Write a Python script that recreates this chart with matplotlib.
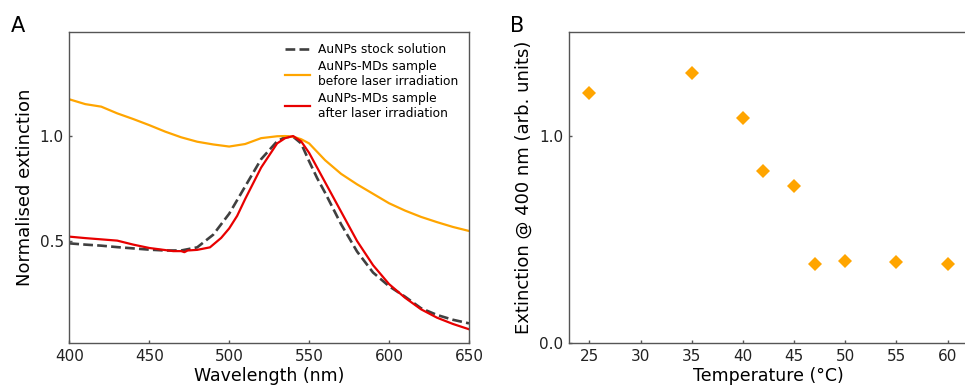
import matplotlib
matplotlib.use("Agg")
import matplotlib.pyplot as plt
from matplotlib.ticker import FormatStrFormatter

# panel A: normalised extinction spectra
wl_stock = [400, 410, 420, 430, 440, 450, 460, 470, 480, 490, 500, 510, 520, 530, 535, 540,
            545, 550, 555, 560, 570, 580, 590, 600, 610, 620, 630, 640, 650]
ext_stock = [0.489, 0.483, 0.478, 0.471, 0.465, 0.459, 0.455, 0.455, 0.47, 0.53, 0.63, 0.76,
             0.89, 0.975, 0.995, 0.997, 0.965, 0.88, 0.80, 0.73, 0.58, 0.45, 0.35, 0.285,
             0.235, 0.18, 0.148, 0.125, 0.108]

wl_before = [400, 410, 420, 430, 440, 450, 460, 470, 480, 490, 500, 510, 520, 530, 535, 540,
             545, 550, 560, 570, 580, 590, 600, 610, 620, 630, 640, 650]
ext_before = [1.175, 1.152, 1.14, 1.108, 1.081, 1.052, 1.021, 0.994, 0.973, 0.960, 0.950, 0.962,
              0.99, 0.999, 1.0, 0.997, 0.985, 0.965, 0.885, 0.82, 0.77, 0.725, 0.68, 0.645,
              0.615, 0.59, 0.567, 0.548]

wl_after = [400, 410, 420, 430, 440, 450, 460, 465, 470, 472, 474, 480, 488, 495, 500, 505, 510,
            520, 530, 535, 540, 545, 550, 560, 570, 580, 590, 600, 610, 620, 630, 640, 650]
ext_after = [0.521, 0.514, 0.508, 0.502, 0.483, 0.467, 0.457, 0.452, 0.452, 0.447, 0.455, 0.458,
             0.47, 0.515, 0.56, 0.62, 0.70, 0.85, 0.965, 0.99, 1.0, 0.975, 0.92, 0.78, 0.64,
             0.50, 0.385, 0.295, 0.23, 0.175, 0.135, 0.105, 0.08]

# panel B: extinction at 400 nm vs temperature
temp = [25, 35, 40, 42, 45, 47, 50, 55, 60]
ext400 = [1.209, 1.302, 1.088, 0.833, 0.759, 0.384, 0.397, 0.392, 0.383]

fig = plt.figure(figsize=(9.65, 3.86), dpi=100)
axA = fig.add_axes([0.0718, 0.1106, 0.4142, 0.8057])
axB = fig.add_axes([0.5896, 0.1106, 0.4135, 0.8057])

axA.plot(wl_stock, ext_stock, ls="--", color="#404040", lw=1.9, label="AuNPs stock solution")
axA.plot(wl_before, ext_before, color="#FFA500", lw=1.6,
         label="AuNPs-MDs sample\nbefore laser irradiation")
axA.plot(wl_after, ext_after, color="#E80000", lw=1.6,
         label="AuNPs-MDs sample\nafter laser irradiation")
axA.set_xlim(400, 650)
axA.set_ylim(0.013, 1.494)
axA.set_xticks([400, 450, 500, 550, 600, 650])
axA.set_yticks([0.5, 1.0])
axA.set_xlabel("Wavelength (nm)", fontsize=12.5, labelpad=2)
axA.set_ylabel("Normalised extinction", fontsize=13, labelpad=4)
axA.legend(loc="upper right", frameon=False, fontsize=8.8, handlelength=2.1,
           handletextpad=0.6, labelspacing=0.3)

axB.plot(temp, ext400, ls="none", marker="D", ms=7.2, mew=0, color="#FFA500")
axB.set_xlim(23, 62)
axB.set_ylim(0, 1.5)
axB.set_xticks([25, 30, 35, 40, 45, 50, 55, 60])
axB.set_yticks([0.0, 1.0])
axB.yaxis.set_major_formatter(FormatStrFormatter("%.1f"))
axB.set_xlabel("Temperature (°C)", fontsize=12.5, labelpad=2)
axB.set_ylabel("Extinction @ 400 nm (arb. units)", fontsize=13, labelpad=5)

for ax in (axA, axB):
    ax.tick_params(direction="in", length=2.5, width=1, labelsize=11, pad=4, colors="#555555",
                   labelcolor="#222222")
    for s in ax.spines.values():
        s.set_color("#555555")
        s.set_linewidth(1)

fig.text(0.011, 0.917, "A", fontsize=15)
fig.text(0.528, 0.917, "B", fontsize=15)

fig.savefig("out.png", dpi=100)
